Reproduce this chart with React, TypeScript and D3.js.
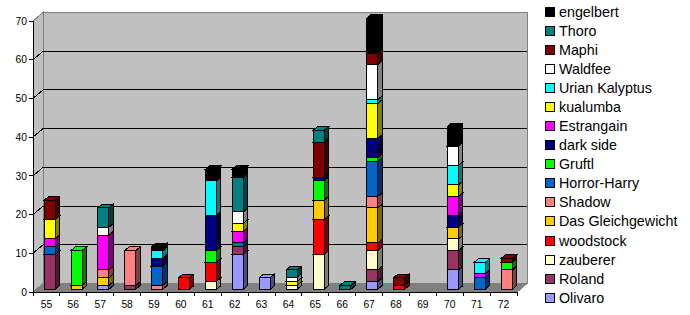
import React from "react";
import * as d3 from "d3";

const categories = ["55","56","57","58","59","60","61","62","63","64","65","66","67","68","69","70","71","72"];
const yTicks = [0, 10, 20, 30, 40, 50, 60, 70];

// stacking order: bottom -> top
const seriesNames = ["Olivaro","Roland","zauberer","woodstock","Das Gleichgewicht","Shadow","Horror-Harry","Gruftl","dark side","Estrangain","kualumba","Urian Kalyptus","Waldfee","Maphi","Thoro","engelbert"];
const seriesColors = ["#9999FF","#993366","#FFFFCC","#FF0000","#FFCC00","#FF8080","#0066CC","#00FF00","#000080","#FF00FF","#FFFF00","#00FFFF","#FFFFFF","#800000","#008080","#000000"];

const olivaro = [0,0,1,0,0,0,0,9,3,0,0,0,2,0,0,5,0,0];
const roland = [9,0,0,1,0,0,0,2,0,0,0,0,3,0,0,5,0,0];
const zauberer = [0,0,0,0,0,0,2,0,0,1,9,0,5,0,0,3,0,0];
const woodstock = [0,0,0,0,0,3,5,0,0,0,9,0,2,1,0,0,0,0];
const dasGleichgewicht = [0,1,2,0,0,0,0,0,0,0,5,0,9,0,0,3,0,0];
const shadow = [0,0,2,9,1,0,0,0,0,0,0,0,3,0,0,0,0,5];
const horrorHarry = [2,0,0,0,5,0,0,1,0,0,0,0,9,0,0,0,3,0];
const gruftl = [0,9,0,0,0,0,3,0,0,0,5,0,1,0,0,0,0,2];
const darkSide = [0,0,0,0,2,0,9,0,0,0,1,0,5,0,0,3,0,0];
const estrangain = [2,0,9,0,0,0,0,3,0,0,0,0,0,0,0,5,1,0];
const kualumba = [5,0,0,0,0,0,0,2,0,1,0,0,9,0,0,3,0,0];
const urianKalyptus = [0,0,0,0,2,0,9,0,0,0,0,0,1,0,0,5,3,0];
const waldfee = [0,0,2,0,0,0,0,3,0,1,0,0,9,0,0,5,0,0];
const maphi = [5,0,0,0,0,0,0,0,0,0,9,0,3,2,0,0,0,1];
const thoro = [0,0,5,0,0,0,0,9,0,2,3,1,0,0,0,0,0,0];
const engelbert = [0,0,0,0,1,0,3,2,0,0,0,0,9,0,0,5,0,0];

const seriesValues = [olivaro, roland, zauberer, woodstock, dasGleichgewicht, shadow, horrorHarry, gruftl, darkSide, estrangain, kualumba, urianKalyptus, waldfee, maphi, thoro, engelbert];

const W = 690, H = 315;
const FONT = "'Liberation Sans', Arial, sans-serif";

// front plane geometry
const FX0 = 33, FX1 = 517;
const DX = 10, DY = 8.5; // wall depth
const barStart = 0.32, barDepth = 0.43;

export default function App() {
  const x = d3.scaleBand<string>().domain(categories).range([FX0, FX1]).paddingInner(0.59).paddingOuter(0.295);
  const xOuter = d3.scaleBand<string>().domain(categories).range([FX0, FX1]).padding(0);
  const y = d3.scaleLinear().domain([0, 70]).range([292, 21]);

  const table = categories.map((c, i) => {
    const row: any = { cat: c };
    seriesNames.forEach((s, j) => (row[s] = seriesValues[j][i]));
    return row;
  });
  const stacked = d3.stack<any>().keys(seriesNames)(table);

  const bx = DX * barStart, by = DY * barStart;
  const bdx = DX * barDepth, bdy = DY * barDepth;
  const bw = x.bandwidth();

  const pts = (arr: number[][]) => arr.map(p => p.join(",")).join(" ");
  const darker = (c: string) => {
    const r = d3.rgb(c);
    return d3.rgb(r.r * 0.5, r.g * 0.5, r.b * 0.5).formatHex();
  };

  const bx0 = FX0 + DX, bx1 = FX1 + DX;
  const yb = (v: number) => y(v) - DY;

  const bars: any[] = [];
  categories.forEach((c, i) => {
    stacked.forEach((layer, j) => {
      const [lo, hi] = layer[i];
      if (hi - lo <= 0) return;
      const x0 = (x(c) as number) + bx;
      const x1 = x0 + bw;
      const y0 = y(lo) - by;
      const y1 = y(hi) - by;
      const col = seriesColors[j];
      bars.push(
        <g key={`${c}-${j}`} stroke="#000" strokeWidth={1} strokeLinejoin="miter">
          <rect x={x0} y={y1} width={bw} height={y0 - y1} fill={col} />
          <polygon points={pts([[x1, y0], [x1 + bdx, y0 - bdy], [x1 + bdx, y1 - bdy], [x1, y1]])} fill={darker(col)} />
          <polygon points={pts([[x0, y1], [x1, y1], [x1 + bdx, y1 - bdy], [x0 + bdx, y1 - bdy]])} fill={col} />
        </g>
      );
    });
  });

  const legendNames = seriesNames.slice().reverse();
  const legendColors = seriesColors.slice().reverse();

  return (
    <svg width={W} height={H} style={{ position: "absolute", left: 0, top: 0, background: "#fff" }} fontFamily={FONT}>
      <g shapeRendering="crispEdges">
        {/* left wall */}
        <polygon points={pts([[FX0, y(70)], [bx0, yb(70)], [bx0, yb(0)], [FX0, y(0)]])} fill="#C0C0C0" stroke="#808080" />
        {/* back wall */}
        <rect x={bx0} y={yb(70)} width={bx1 - bx0} height={yb(0) - yb(70)} fill="#C0C0C0" stroke="#808080" />
        {/* floor */}
        <polygon points={pts([[FX0, y(0)], [FX1, y(0)], [bx1, yb(0)], [bx0, yb(0)]])} fill="#808080" stroke="#808080" />
        {/* gridlines */}
        {yTicks.filter(t => t > 0 && t < 70).map(t => (
          <g key={t} stroke="#000" strokeWidth={1}>
            <line x1={bx0} x2={bx1} y1={yb(t)} y2={yb(t)} />
            <line x1={FX0} x2={bx0} y1={y(t)} y2={yb(t)} />
          </g>
        ))}
        {/* axes */}
        <line x1={FX0} x2={FX0} y1={y(70)} y2={y(0)} stroke="#000" />
        <line x1={FX0} x2={FX1} y1={y(0)} y2={y(0)} stroke="#000" />
        {yTicks.map(t => (
          <line key={t} x1={FX0 - 4} x2={FX0} y1={y(t)} y2={y(t)} stroke="#000" />
        ))}
        {categories.map(c => (
          <line key={c} x1={xOuter(c) as number} x2={xOuter(c) as number} y1={y(0)} y2={y(0) + 4} stroke="#000" />
        ))}
        <line x1={FX1} x2={FX1} y1={y(0)} y2={y(0) + 4} stroke="#000" />
        {bars}
        {/* legend swatches */}
        {legendNames.map((n, i) => {
          const cy = 11.7 + i * 19.07;
          return <rect key={n} x={545.5} y={cy - 4.5} width={9} height={9} fill={legendColors[i]} stroke="#000" />;
        })}
      </g>
      {yTicks.map(t => (
        <text key={t} x={27} y={y(t)} dy="0.36em" textAnchor="end" fontSize={10.3}>{t}</text>
      ))}
      {categories.map(c => (
        <text key={c} x={(xOuter(c) as number) + xOuter.bandwidth() / 2} y={307.5} textAnchor="middle" fontSize={10.3}>{c}</text>
      ))}
      {legendNames.map((n, i) => {
        const cy = 11.7 + i * 19.07;
        return <text key={n} x={559} y={cy} dy="0.35em" fontSize={14.3}>{n}</text>;
      })}
    </svg>
  );
}
